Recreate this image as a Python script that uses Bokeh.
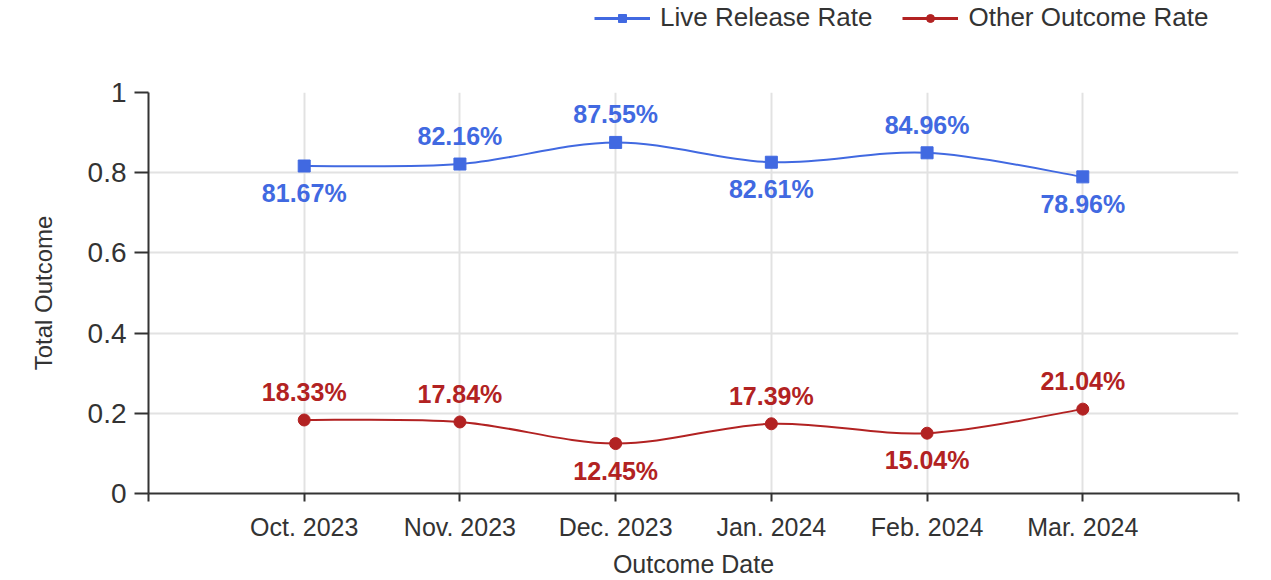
import numpy as np
from bokeh.plotting import figure
from bokeh.layouts import column
from bokeh.models import FixedTicker, Legend, LegendItem, ColumnDataSource
from bokeh.core.properties import value
from bokeh.embed import file_html
from bokeh.resources import INLINE

months = ["Oct. 2023", "Nov. 2023", "Dec. 2023", "Jan. 2024", "Feb. 2024", "Mar. 2024"]
live_rate = [0.8167, 0.8216, 0.8755, 0.8261, 0.8496, 0.7896]
other_rate = [0.1833, 0.1784, 0.1245, 0.1739, 0.1504, 0.2104]
series_names = ["Live Release Rate", "Other Outcome Rate"]
y_ticks = [0, 0.2, 0.4, 0.6, 0.8, 1]
y_tick_labels = ["0", "0.2", "0.4", "0.6", "0.8", "1"]

BLUE = "#4169e1"
RED = "#b22222"
GRID = "#e2e2e2"
FONT = "Liberation Sans"
W = 1268

xs = list(range(len(months)))

# ---- main chart ----
p = figure(width=W, height=503, output_backend="svg", toolbar_location=None,
           x_range=(-1, len(months)), y_range=(0, 1),
           min_border_left=148, min_border_right=30, min_border_top=15, min_border_bottom=86)
p.outline_line_color = None
p.background_fill_color = "white"
p.border_fill_color = "white"

p.xaxis.ticker = FixedTicker(ticks=[-1] + xs + [len(months)])
ov = {-1: "", len(months): ""}
for i, m in enumerate(months):
    ov[i] = m
p.xaxis.major_label_overrides = ov
p.yaxis.ticker = FixedTicker(ticks=y_ticks)
p.yaxis.major_label_overrides = {t: l for t, l in zip(y_ticks, y_tick_labels)}

for ax in (p.xaxis[0], p.yaxis[0]):
    ax.axis_line_color = "#333333"
    ax.axis_line_width = 2
    ax.major_tick_line_color = "#333333"
    ax.major_tick_line_width = 2
    ax.minor_tick_line_color = None
    ax.major_tick_in = 0
    ax.major_label_text_font = FONT
    ax.major_label_text_color = "#333333"
    ax.axis_label_text_font = FONT
    ax.axis_label_text_font_style = "normal"
    ax.axis_label_text_color = "#333333"

p.yaxis.major_tick_out = 14
p.yaxis.major_label_standoff = 8
p.yaxis.major_label_text_font_size = "28px"
p.yaxis.axis_label = "Total Outcome"
p.yaxis.axis_label_text_font_size = "24px"
p.yaxis.axis_label_standoff = 28

p.xaxis.major_tick_out = 8
p.xaxis.major_label_standoff = 11
p.xaxis.major_label_text_font_size = "25px"
p.xaxis.axis_label = "Outcome Date"
p.xaxis.axis_label_text_font_size = "25px"
p.xaxis.axis_label_standoff = 6

p.xgrid.ticker = p.xaxis[0].ticker
p.ygrid.ticker = p.yaxis[0].ticker
for g in (p.xgrid[0], p.ygrid[0]):
    g.grid_line_color = GRID
    g.grid_line_width = 2


def smooth(ys, t=1.0):
    n = len(ys)
    src = dict(x0=[], y0=[], x1=[], y1=[], cx0=[], cy0=[], cx1=[], cy1=[])
    for i in range(n - 1):
        im = max(i - 1, 0)
        ip2 = min(i + 2, n - 1)
        src["x0"].append(xs[i]); src["y0"].append(ys[i])
        src["x1"].append(xs[i + 1]); src["y1"].append(ys[i + 1])
        src["cx0"].append(xs[i] + t * (xs[i + 1] - xs[im]) / 6)
        src["cy0"].append(ys[i] + t * (ys[i + 1] - ys[im]) / 6)
        src["cx1"].append(xs[i + 1] - t * (xs[ip2] - xs[i]) / 6)
        src["cy1"].append(ys[i + 1] - t * (ys[ip2] - ys[i]) / 6)
    return ColumnDataSource(src)


styles = [(BLUE, "square"), (RED, "circle")]
for ys, (color, marker) in zip((live_rate, other_rate), styles):
    p.bezier(x0="x0", y0="y0", x1="x1", y1="y1", cx0="cx0", cy0="cy0", cx1="cx1", cy1="cy1",
             source=smooth(ys), line_color=color, line_width=2)
    p.scatter(xs, ys, marker=marker, size=12, fill_color=color, line_color=color)
    # labels: below if local minimum, otherwise above
    ax_, ay_, at_, bx_, by_, bt_ = [], [], [], [], [], []
    n = len(ys)
    for i, v in enumerate(ys):
        nb = [ys[j] for j in (i - 1, i + 1) if 0 <= j < n]
        txt = f"{v * 100:.2f}%"
        if all(v < u for u in nb):
            bx_.append(xs[i]); by_.append(v); bt_.append(txt)
        else:
            ax_.append(xs[i]); ay_.append(v); at_.append(txt)
    p.text(ax_, ay_, text=at_, text_align="center", text_baseline="middle", y_offset=-28,
           text_font=value(FONT), text_font_size="25px", text_font_style="bold", text_color=color)
    p.text(bx_, by_, text=bt_, text_align="center", text_baseline="middle", y_offset=27,
           text_font=value(FONT), text_font_size="25px", text_font_style="bold", text_color=color)

# ---- legend strip on top ----
top = figure(width=W, height=77, output_backend="svg", toolbar_location=None,
             x_axis_type=None, y_axis_type=None, x_range=(0, 1), y_range=(0, 1),
             min_border=0)
top.outline_line_color = None
top.grid.visible = False
top.border_fill_color = "white"
items = []
for name, (color, marker) in zip(series_names, styles):
    ln = top.line(np.array([np.nan]), np.array([np.nan]), line_color=color, line_width=3)
    sc = top.scatter(np.array([np.nan]), np.array([np.nan]), marker=marker, size=8,
                     fill_color=color, line_color=color)
    items.append(LegendItem(label=name, renderers=[ln, sc]))
legend = Legend(items=items, orientation="horizontal", location=(446, 44),
                label_text_font=FONT, label_text_font_size="26px", label_text_color="#333333",
                glyph_width=56, glyph_height=20, label_standoff=10, spacing=30,
                padding=0, margin=0, border_line_color=None, background_fill_alpha=0)
top.add_layout(legend, "center")

open("out.html", "w").write(file_html(column(top, p, spacing=0), INLINE))
